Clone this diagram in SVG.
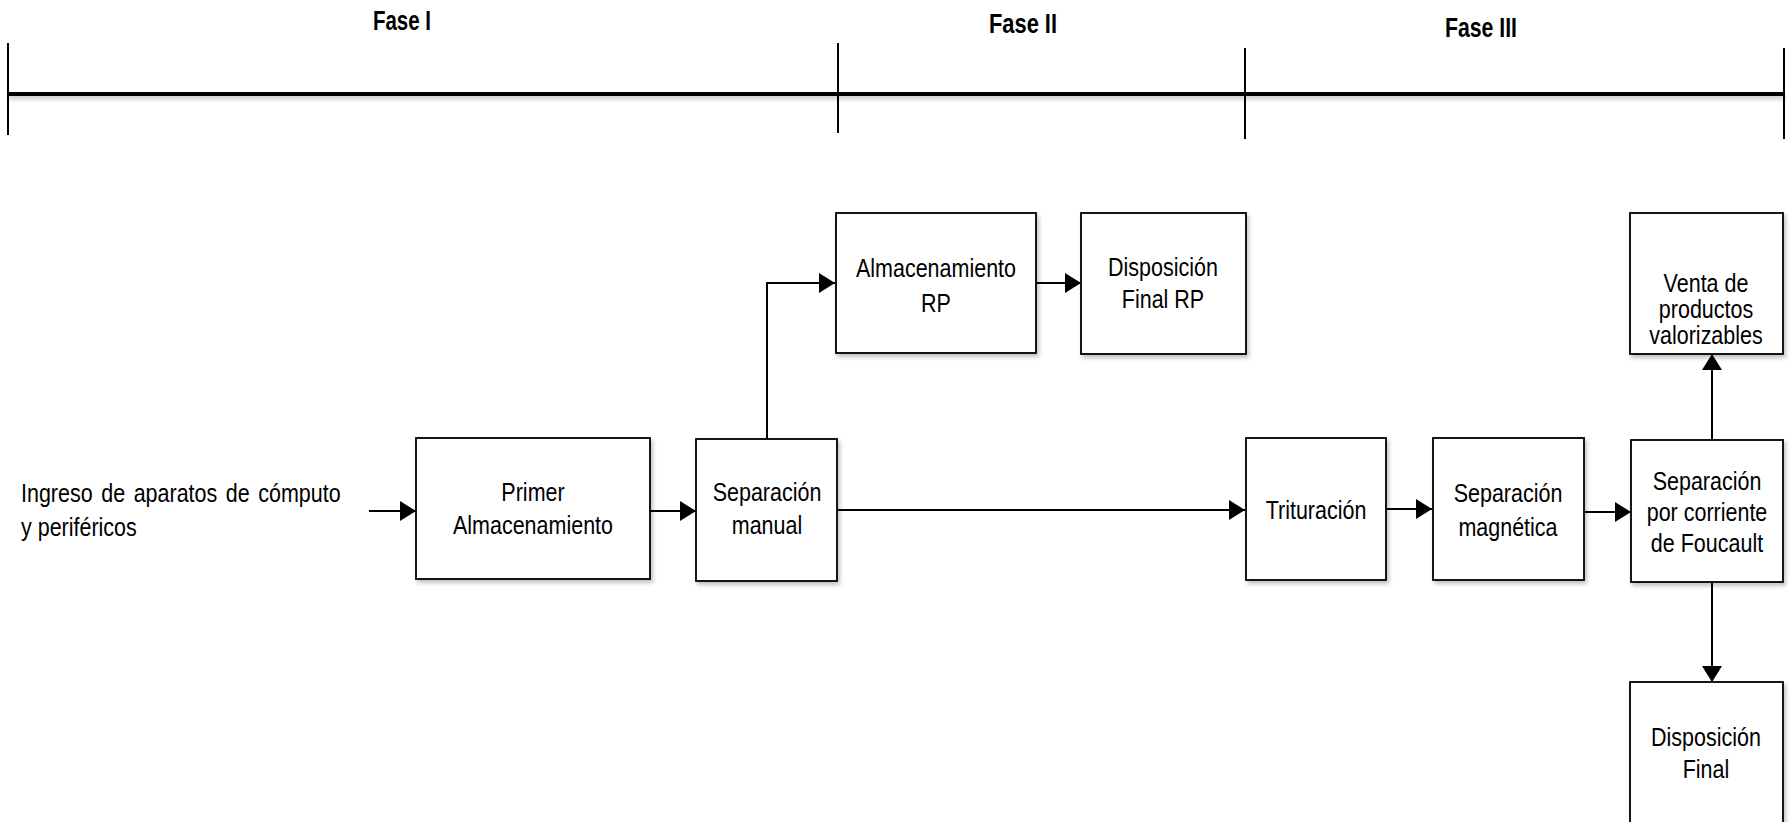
<svg xmlns="http://www.w3.org/2000/svg" width="1792" height="822" viewBox="0 0 1792 822">
  <style>
    .box { fill: #fff; stroke: #000; stroke-width: 1.8; filter: url(#sh); }
    .t { font-family: "Liberation Sans", Arial, sans-serif; font-size: 25px; fill: #000; text-anchor: middle; }
    .tl { font-family: "Liberation Sans", Arial, sans-serif; font-size: 25px; fill: #000; }
    .ph { font-family: "Liberation Sans", Arial, sans-serif; font-size: 28px; font-weight: bold; fill: #000; }
    .con { fill: none; stroke: #000; stroke-width: 2; marker-end: url(#ah); }
    .tick { stroke: #000; stroke-width: 2; }
  </style>
  <defs>
    <filter id="sh" x="-10%" y="-10%" width="125%" height="130%">
      <feDropShadow dx="2" dy="3" stdDeviation="2" flood-color="#000" flood-opacity="0.25"/>
    </filter>
    <filter id="blur" filterUnits="userSpaceOnUse" x="0" y="80" width="1792" height="30">
      <feGaussianBlur stdDeviation="2"/>
    </filter>
    <marker id="ah" viewBox="0 0 16 20" refX="16" refY="10" markerWidth="16" markerHeight="20" markerUnits="userSpaceOnUse" orient="auto">
      <path d="M0,0 L16,10 L0,20 Z" fill="#000"/>
    </marker>
  </defs>
  <rect width="1792" height="822" fill="#fff"/>

  <g id="timeline">
    <rect x="8" y="95" width="1777" height="4" fill="#000" opacity="0.25" filter="url(#blur)"/>
    <line stroke="#000" stroke-width="4" x1="8" y1="94" x2="1785" y2="94"/>
    <line class="tick" x1="8" y1="43" x2="8" y2="135"/>
    <line class="tick" x1="838" y1="43" x2="838" y2="133"/>
    <line class="tick" x1="1245" y1="48" x2="1245" y2="139"/>
    <line class="tick" x1="1784" y1="48" x2="1784" y2="139"/>
    <text class="ph" x="373" y="30" textLength="58" lengthAdjust="spacingAndGlyphs">Fase I</text>
    <text class="ph" x="989" y="33" textLength="68" lengthAdjust="spacingAndGlyphs">Fase II</text>
    <text class="ph" x="1445" y="37" textLength="72" lengthAdjust="spacingAndGlyphs">Fase III</text>
  </g>

  <g id="input">
    <text class="tl" transform="translate(21 0) scale(0.86 1)" x="0" y="502" word-spacing="3">Ingreso de aparatos de cómputo</text>
    <text class="tl" transform="translate(21 0) scale(0.86 1)" x="0" y="536">y periféricos</text>
  </g>

  <g id="connectors">
    <path class="con" d="M369,511 H416"/>
    <path class="con" d="M650,511 H696"/>
    <path class="con" d="M767,439 V283 H835"/>
    <path class="con" d="M1035,283 H1081"/>
    <path class="con" d="M837,510 H1245"/>
    <path class="con" d="M1385,509 H1432"/>
    <path class="con" d="M1584,512 H1631"/>
    <path class="con" d="M1712,440 V354"/>
    <path class="con" d="M1712,582 V682"/>
  </g>

  <g id="primer-almacenamiento">
    <rect class="box" x="416" y="438" width="234" height="141"/>
    <text class="t" transform="translate(533 0) scale(0.86 1)"><tspan x="0" y="501">Primer</tspan><tspan x="0" y="534">Almacenamiento</tspan></text>
  </g>

  <g id="separacion-manual">
    <rect class="box" x="696" y="439" width="141" height="142"/>
    <text class="t" transform="translate(767 0) scale(0.86 1)"><tspan x="0" y="501">Separación</tspan><tspan x="0" y="534">manual</tspan></text>
  </g>

  <g id="almacenamiento-rp">
    <rect class="box" x="836" y="213" width="200" height="140"/>
    <text class="t" transform="translate(936 0) scale(0.86 1)"><tspan x="0" y="277">Almacenamiento</tspan><tspan x="0" y="312">RP</tspan></text>
  </g>

  <g id="disposicion-final-rp">
    <rect class="box" x="1081" y="213" width="165" height="141"/>
    <text class="t" transform="translate(1163 0) scale(0.86 1)"><tspan x="0" y="276">Disposición</tspan><tspan x="0" y="308">Final RP</tspan></text>
  </g>

  <g id="trituracion">
    <rect class="box" x="1246" y="438" width="140" height="142"/>
    <text class="t" transform="translate(1316 0) scale(0.86 1)"><tspan x="0" y="519">Trituración</tspan></text>
  </g>

  <g id="separacion-magnetica">
    <rect class="box" x="1433" y="438" width="151" height="142"/>
    <text class="t" transform="translate(1508 0) scale(0.86 1)"><tspan x="0" y="502">Separación</tspan><tspan x="0" y="536">magnética</tspan></text>
  </g>

  <g id="separacion-foucault">
    <rect class="box" x="1631" y="440" width="152" height="142"/>
    <text class="t" transform="translate(1707 0) scale(0.86 1)"><tspan x="0" y="490">Separación</tspan><tspan x="0" y="521">por corriente</tspan><tspan x="0" y="552">de Foucault</tspan></text>
  </g>

  <g id="venta-productos">
    <rect class="box" x="1630" y="213" width="153" height="141"/>
    <text class="t" transform="translate(1706 0) scale(0.86 1)"><tspan x="0" y="292">Venta de</tspan><tspan x="0" y="318">productos</tspan><tspan x="0" y="344">valorizables</tspan></text>
  </g>

  <g id="disposicion-final">
    <rect class="box" x="1630" y="682" width="153" height="150"/>
    <text class="t" transform="translate(1706 0) scale(0.86 1)"><tspan x="0" y="746">Disposición</tspan><tspan x="0" y="778">Final</tspan></text>
  </g>
</svg>
